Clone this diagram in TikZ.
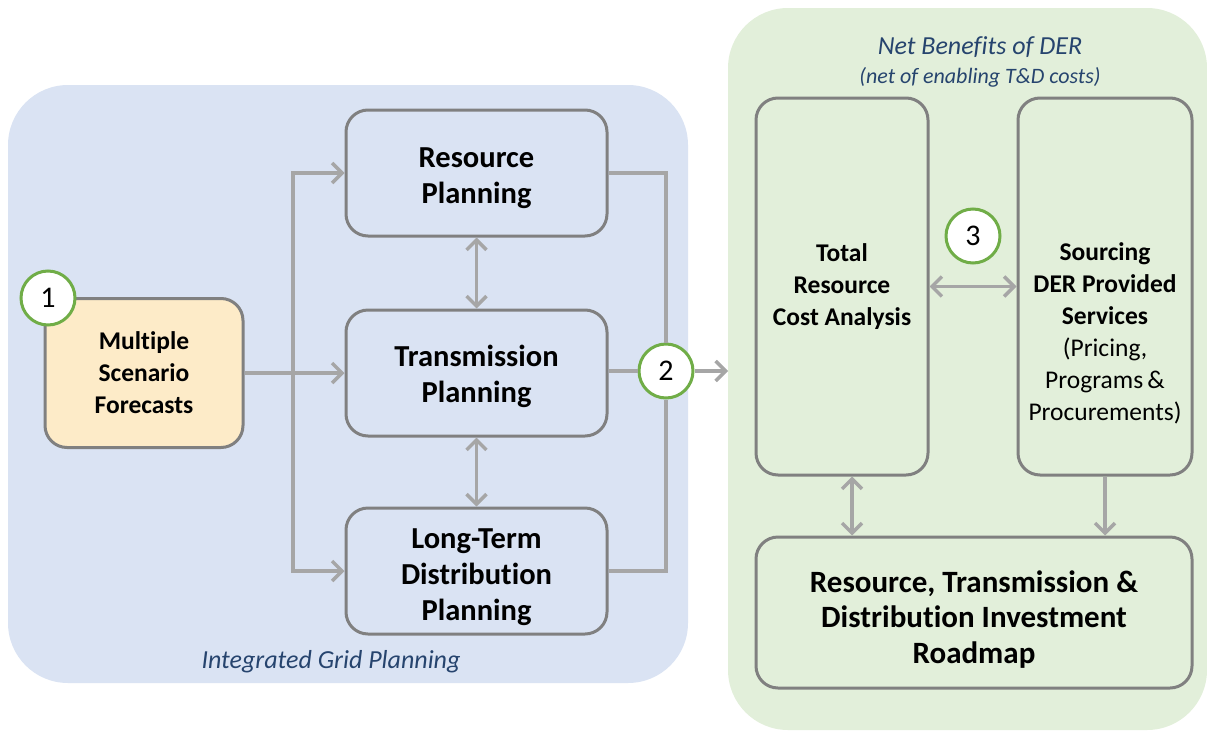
\documentclass[tikz,border=0pt]{standalone}
\usepackage{fontspec}
\setmainfont{Carlito}[Ligatures=NoCommon]
\usetikzlibrary{arrows.meta}
\definecolor{gridblue}{RGB}{218,227,243}
\definecolor{dergreen}{RGB}{226,239,218}
\definecolor{forecastfill}{RGB}{253,235,200}
\definecolor{boxgray}{RGB}{128,128,128}
\definecolor{arrowgray}{RGB}{166,166,166}
\definecolor{ringgreen}{RGB}{112,173,71}
\definecolor{captionblue}{RGB}{38,68,110}
\tikzset{
  planbox/.style={draw=boxgray,line width=3pt,rounded corners=22pt,align=center,font=\bfseries\fontsize{30.5}{36}\selectfont},
  smallbox/.style={planbox,font=\bfseries\fontsize{25.5}{32}\selectfont},
  stepring/.style={draw=ringgreen,fill=white,line width=3pt,circle,minimum size=54pt,inner sep=0pt,font=\fontsize{30}{34}\selectfont},
  conn/.style={draw=arrowgray,line width=3.5pt},
  barb/.tip={Straight Barb[length=10pt,width=20pt,line width=3.5pt]},
  arr/.style={conn,-barb},
  arrtwo/.style={conn,barb-barb},
  caption/.style={text=captionblue,font=\itshape\fontsize{26}{30}\selectfont}
}
\begin{document}
\begin{tikzpicture}[x=1pt,y=-1pt]
\useasboundingbox (0,0) rectangle (1207,731);
% background regions
\fill[gridblue,rounded corners=60pt] (8,85) rectangle (688,683);
\fill[dergreen,rounded corners=60pt] (728,8) rectangle (1207,730);
\node[caption] (igp) at (331,662) {Integrated Grid Planning};
\node[caption] (netder) at (980,47) {Net Benefits of DER};
\node[caption,font=\itshape\fontsize{22}{26}\selectfont] (netcost) at (980,77) {(net of enabling T\&D costs)};
% planning boxes
\node[planbox,minimum width=261pt,minimum height=126pt] (res) at (476.5,173) {\mbox{}\\[-6pt]Resource\\Planning};
\node[planbox,minimum width=261pt,minimum height=126pt] (trans) at (476.5,373) {\mbox{}\\[-8pt]Transmission\\Planning};
\node[planbox,minimum width=261pt,minimum height=126pt] (ltd) at (476.5,571) {\mbox{}\\[-4pt]Long-Term\\Distribution\\Planning};
\node[smallbox,fill=forecastfill,minimum width=198pt,minimum height=149pt] (fore) at (144,373) {Multiple\\Scenario\\Forecasts};
\node[smallbox,minimum width=172pt,minimum height=377pt] (tot) at (842,286.5) {Total\\Resource\\Cost Analysis};
\node[smallbox,minimum width=174pt,minimum height=377pt] (src) at (1105,286.5) {\mbox{}\\[80pt]Sourcing\\DER Provided\\Services\\\mdseries (Pricing,\\\mdseries Programs\,\&\\\mdseries Procurements)};
\node[planbox,minimum width=436pt,minimum height=151pt,font=\bfseries\fontsize{31}{35.5}\selectfont] (road) at (974,612.5) {\mbox{}\\[0pt]Resource, Transmission \&\\Distribution Investment\\Roadmap};
% step markers
\node[stepring] (c1) at (48,298) {1};
\node[stepring] (c2) at (666,371) {2};
\node[stepring] (c3) at (973,236) {3};
% connectors
\coordinate (split) at (293,373);
\coordinate (gin) at (728,371);
\draw[arr] (fore) -- (trans);
\draw[arr] (split) |- (res.west);
\draw[arr] (split) |- (ltd.west);
\draw[arrtwo] (res) -- (trans);
\draw[arrtwo] (trans) -- (ltd);
\draw[conn] (res.east) -| (c2);
\draw[conn] (ltd.east) -| (c2);
\draw[conn] (trans.east |- c2) -- (c2);
\draw[arr] (c2) -- (gin);
\draw[arrtwo] (tot) -- (src);
\draw[arrtwo] ([xshift=10pt]tot.south) -- ([xshift=10pt]tot.south |- road.north);
\draw[arr] (src) -- (src |- road.north);
\end{tikzpicture}
\end{document}
